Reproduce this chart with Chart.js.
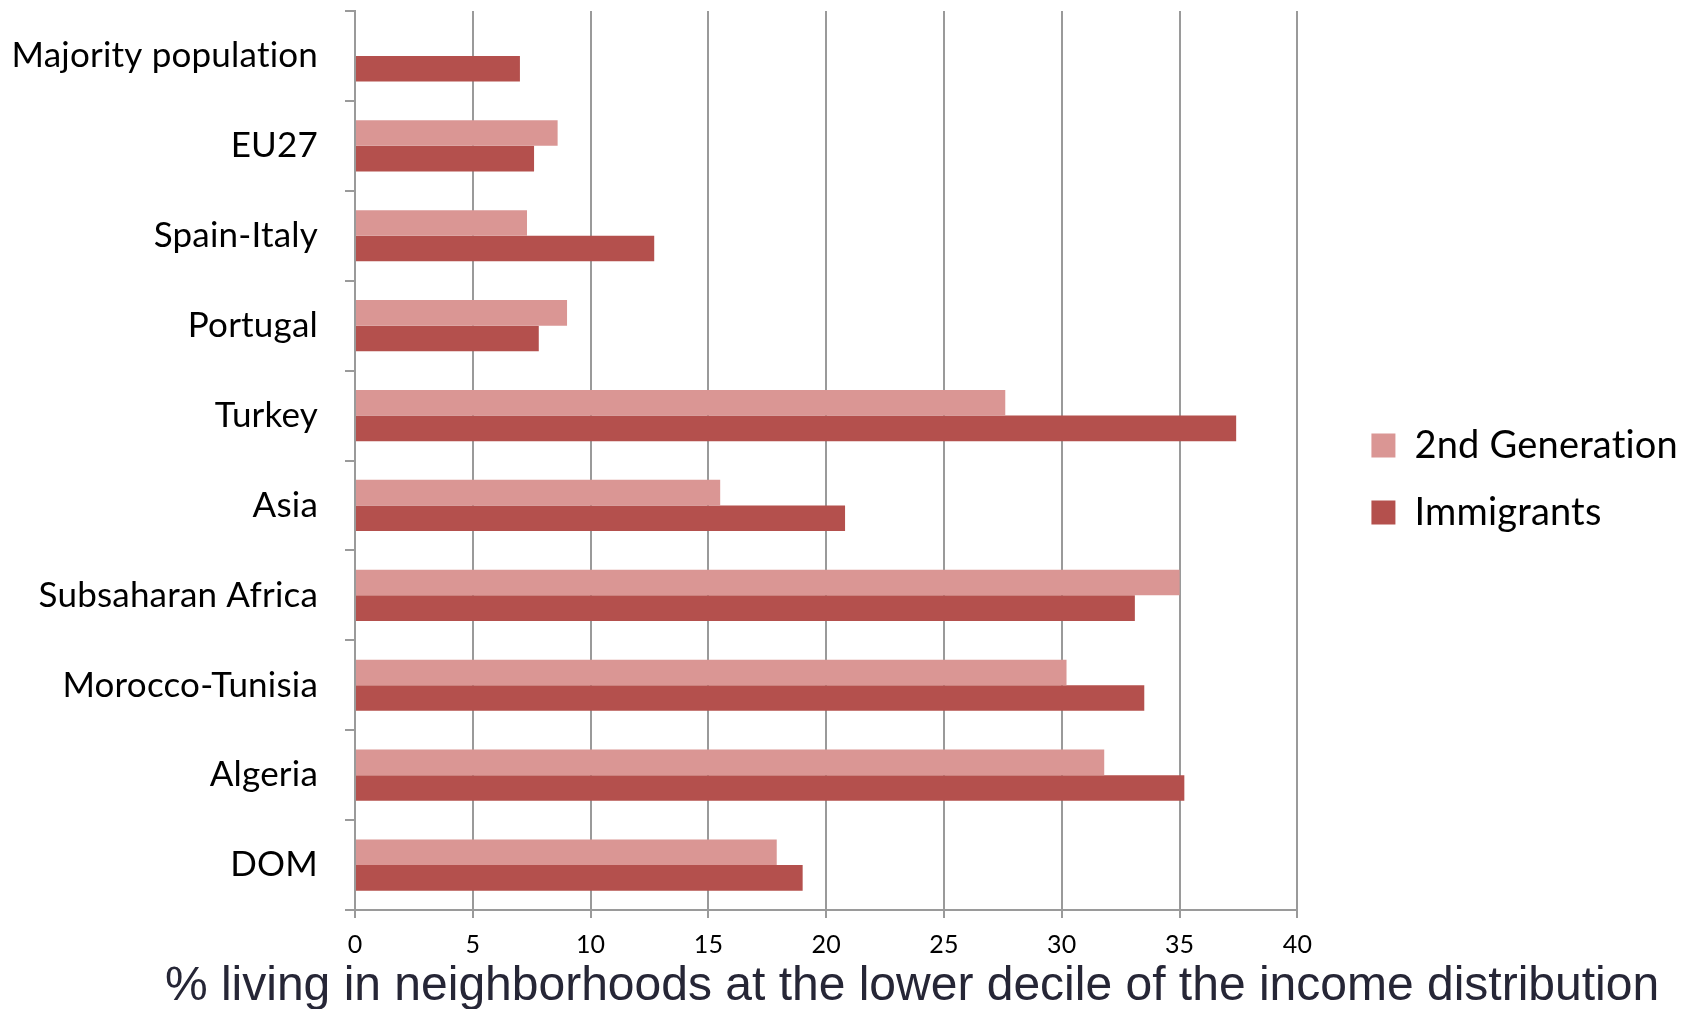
<!DOCTYPE html>
<html>
<head>
<meta charset="utf-8">
<script src="https://cdn.jsdelivr.net/npm/chart.js@4.4.1/dist/chart.umd.min.js"></script>
<style>
  html, body { margin: 0; padding: 0; background: #fff; }
  #wrap { width: 1698px; height: 1009px; }
</style>
</head>
<body>
<div id="wrap"><canvas id="barChart" width="1698" height="1009"></canvas></div>
<script>
// data
const categories = ['Majority population', 'EU27', 'Spain-Italy', 'Portugal', 'Turkey',
  'Asia', 'Subsaharan Africa', 'Morocco-Tunisia', 'Algeria', 'DOM'];
const secondGen = [null, 8.6, 7.3, 9.0, 27.6, 15.5, 35.0, 30.2, 31.8, 17.9];
const immigrants = [7.0, 7.6, 12.7, 7.8, 37.4, 20.8, 33.1, 33.5, 35.2, 19.0];
const xTicks = [0, 5, 10, 15, 20, 25, 30, 35, 40];
const xTitle = '% living in neighborhoods at the lower decile of the income distribution';

const GRID = '#9a9a9a';

// tiny letter spacing turns off the "ti" ligature of Lato
// (canvas resize resets ctx state, so set it again before layout and draw)
const noLigatures = {
  id: 'noLigatures',
  beforeLayout(chart) { chart.ctx.letterSpacing = '0.2px'; },
  beforeDraw(chart) { chart.ctx.letterSpacing = '0.2px'; }
};

// x axis title, drawn under the tick labels (not centred on the plot in the original)
const bottomTitle = {
  id: 'bottomTitle',
  afterDraw(chart) {
    const c = chart.ctx;
    c.save();
    c.letterSpacing = '0px';
    c.font = '48px "Liberation Sans", Arial, sans-serif';
    c.fillStyle = '#262636';
    c.textAlign = 'center';
    c.textBaseline = 'middle';
    c.fillText(xTitle, 912, 987);
    c.restore();
  }
};

const ctx = document.getElementById('barChart').getContext('2d');
const chart = new Chart(ctx, {
  type: 'bar',
  data: {
    labels: categories,
    datasets: [
      { label: '2nd Generation', data: secondGen, backgroundColor: '#DA9694' },
      { label: 'Immigrants', data: immigrants, backgroundColor: '#B4504D' }
    ]
  },
  options: {
    indexAxis: 'y',
    responsive: false,
    devicePixelRatio: 1,
    animation: false,
    categoryPercentage: 0.57,
    barPercentage: 1.0,
    layout: { padding: { left: 12, top: 11, right: 10, bottom: 0 } },
    scales: {
      x: {
        min: 0, max: 40,
        afterBuildTicks(s) { s.ticks = xTicks.map(v => ({ value: v })); },
        afterFit(s) { s.height = 99; },
        grid: { color: GRID, lineWidth: 2, tickLength: 8, tickColor: GRID },
        border: { display: true, color: GRID, width: 2 },
        ticks: { color: '#000', padding: 12, font: { family: 'Lato', size: 25 } }
      },
      y: {
        afterFit(s) { s.width = 343; s.paddingTop = 0; s.paddingBottom = 0; },
        grid: { offset: true, drawOnChartArea: false, color: GRID, lineWidth: 2, tickLength: 10 },
        border: { display: true, color: GRID, width: 2 },
        ticks: { color: '#000', padding: 27, font: { family: 'Lato', size: 35 } }
      },
      // empty spacer between the plot and the legend
      gap: {
        type: 'linear', axis: 'y', position: 'right',
        afterFit(s) { s.width = 45; s.paddingTop = 0; s.paddingBottom = 0; },
        grid: { display: false }, border: { display: false }, ticks: { display: false }
      }
    },
    plugins: {
      legend: {
        position: 'right',
        fullSize: false,
        maxWidth: 420,
        title: { display: true, text: '', font: { size: 1 }, padding: { top: 0, bottom: 36 } },
        labels: {
          color: '#000',
          boxWidth: 24, boxHeight: 24,
          padding: 29,
          font: { family: 'Lato', size: 38 }
        }
      },
      tooltip: { enabled: false }
    }
  },
  plugins: [noLigatures, bottomTitle]
});
</script>
</body>
</html>
